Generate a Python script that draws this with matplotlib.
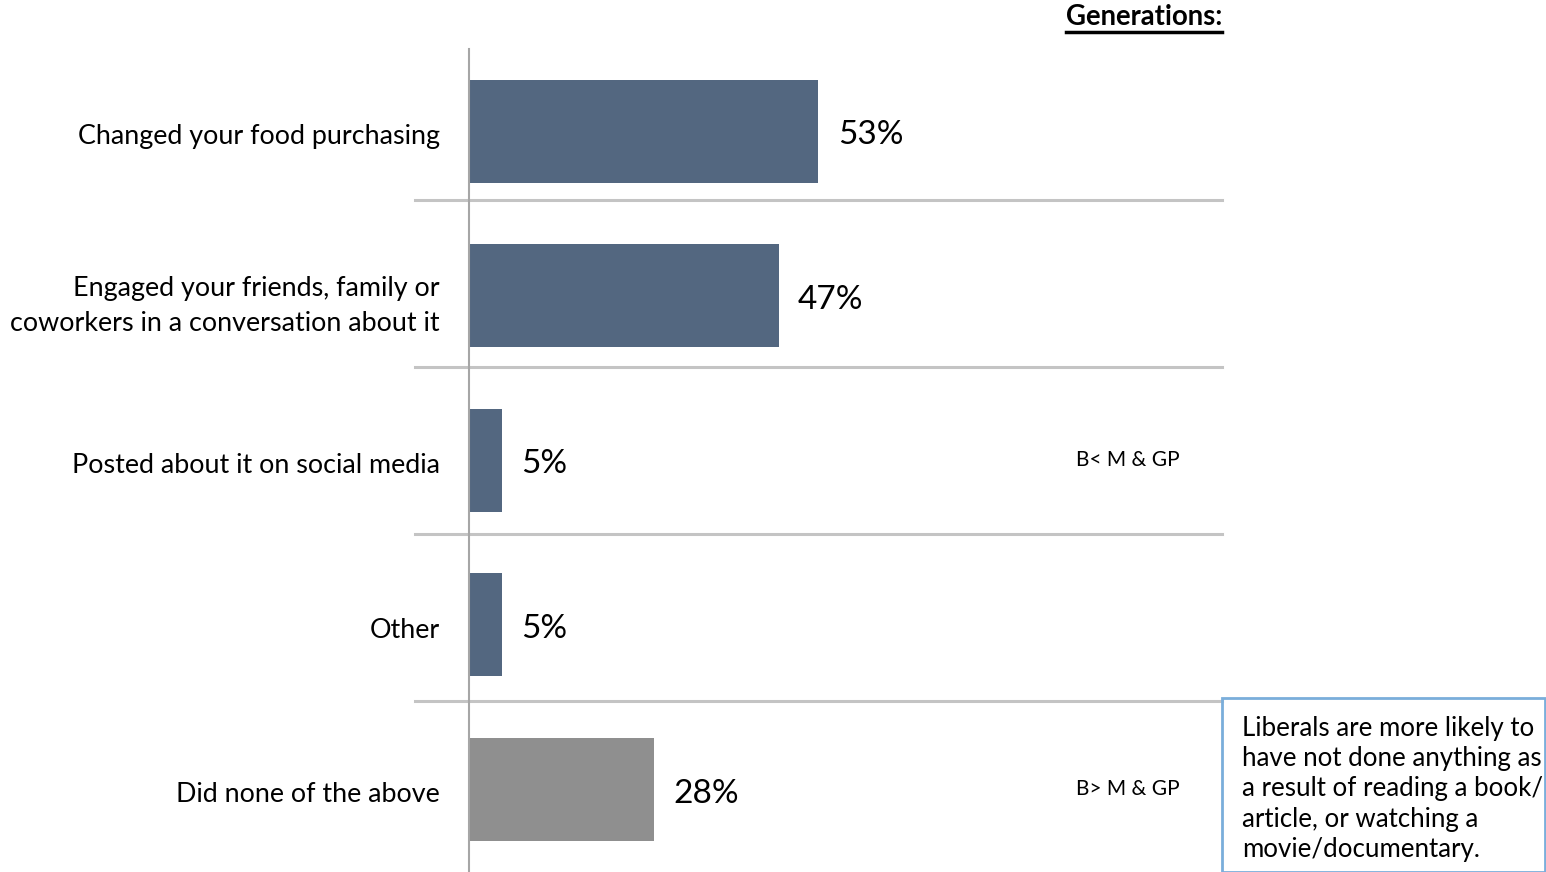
import matplotlib.pyplot as plt
import matplotlib.transforms as mtransforms
from matplotlib.lines import Line2D
from matplotlib.patches import Rectangle

plt.rcParams['font.family'] = ['Lato', 'DejaVu Sans']

categories = [
    "Changed your food purchasing",
    "Engaged your friends, family or\ncoworkers in a conversation about it",
    "Posted about it on social media",
    "Other",
    "Did none of the above",
]
values = [53, 47, 5, 5, 28]
bar_colors = ["#536780", "#536780", "#536780", "#536780", "#8f8f8f"]
sig_notes = {2: "B< M & GP", 4: "B> M & GP"}
note_text = ("Liberals are more likely to\nhave not done anything as\n"
             "a result of reading a book/\narticle, or watching a\nmovie/documentary.")

fig = plt.figure(figsize=(15.46, 8.72), dpi=100)
ax = fig.add_axes([0.3034, 0.0003, 0.4871, 0.9438])

y = list(range(len(categories)))
ax.barh(y, values, height=0.626, color=bar_colors)
ax.set_xlim(0, 114.3)
ax.set_ylim(4.5, -0.5)

for yi, v in zip(y, values):
    ax.annotate(f"{v}%", (v, yi), xytext=(14, -3), textcoords="offset points",
                va="center", ha="left", fontsize=24)

# row separators, extending left past the axis line
tr = ax.get_yaxis_transform()
for sy in [0.419, 1.434, 2.448, 3.463]:
    ax.plot([-0.072, 1.0], [sy, sy], transform=tr, color="#c4c4c4",
            lw=2.2, clip_on=False, zorder=0)

ax.set_yticks(y)
ax.set_yticklabels(categories, fontsize=19.4, linespacing=1.5)
ax.tick_params(axis="y", length=0, pad=21)
shift = mtransforms.ScaledTranslation(0, -2 / 72, fig.dpi_scale_trans)
for lbl in ax.get_yticklabels():
    lbl.set_transform(lbl.get_transform() + shift)
ax.set_xticks([])
for side in ["top", "right", "bottom"]:
    ax.spines[side].set_visible(False)
ax.spines["left"].set_color("#a6a6a6")
ax.spines["left"].set_linewidth(1.5)

for yi, txt in sig_notes.items():
    ax.text(0.943, yi, txt, transform=tr, ha="right", va="center", fontsize=15)

# header with underline
fig.text(1222 / 1546, 1 - 17 / 872, "Generations:", ha="right", va="center",
         fontsize=19.8, fontweight="bold")
fig.add_artist(Line2D([1066 / 1546, 1222 / 1546], [1 - 32 / 872, 1 - 32 / 872],
                      color="black", lw=2.5))

# callout box
fig.add_artist(Rectangle((1222 / 1546, 0.0), 323 / 1546, 174 / 872,
                         transform=fig.transFigure, fill=False,
                         edgecolor="#7aaedb", lw=2))
fig.text(1242 / 1546, 1 - 716 / 872, note_text, ha="left", va="top",
         fontsize=18.6, linespacing=1.26)

fig.savefig("out.png", dpi=100)
